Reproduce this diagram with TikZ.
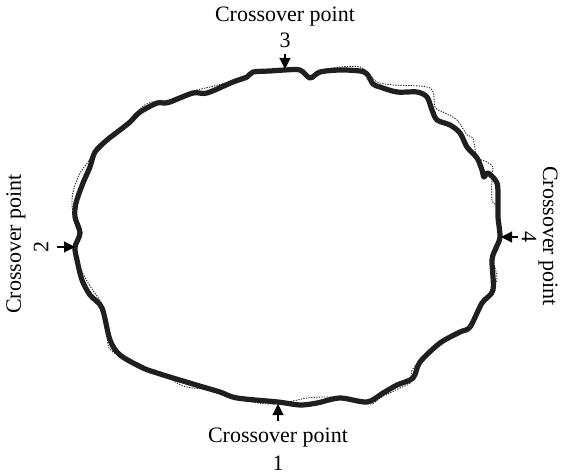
\documentclass[tikz,border=0pt]{standalone}
\usepackage{fontspec}
\setmainfont{Liberation Serif}
\usetikzlibrary{arrows.meta}
\begin{document}
\begin{tikzpicture}[x=1pt,y=-1pt,
  thickcurve/.style={line width=5.2pt,color=black!88,line join=round},
  dotcurve/.style={line width=0.9pt,dash pattern=on 1.3pt off 1.3pt,color=black!85},
  pointer/.style={line width=1.1pt,-{Triangle[length=11pt,width=11pt]}},
  lbl/.style={font=\fontsize{22}{26}\selectfont,inner sep=0pt,align=center}]
\useasboundingbox (0,0) rectangle (562,476);
% dotted reference curve
\draw[dotcurve] plot[smooth cycle,tension=0.5] coordinates {
(285,69) (300,69) (310,77) (320,71) (340,67) (360,67) (370,75) (377,82)
(393,85) (430,88) (435,107) (443,112) (457,120) (467,135) (473,138)
(477,157) (487,162) (493,167) (492,175) (492,200) (497,207) (500,230)
(500,237) (496,248) (492,260) (495,268) (497,278) (493,290) (482,303)
(470,327) (460,332) (440,343) (420,362) (412,370) (410,383) (400,388)
(380,398) (370,404) (340,398) (323,397) (307,398) (293,401) (278,404)
(258,403) (237,398) (220,392) (203,389) (183,386) (157,371) (143,368)
(122,357) (113,352) (108,345) (107,322) (102,304) (90,286) (80,268)
(77,258) (75,247) (79,233) (73,213) (72,200) (74,188) (80,173) (88,162)
(98,146) (110,137) (130,120) (142,107) (152,102) (165,101) (193,91)
(210,87) (233,81) (247,76) (253,72) (270,70)};
% thick measured curve
\draw[thickcurve] plot[smooth cycle,tension=0.5] coordinates {
(285,70) (300,70) (310,78) (320,72) (340,70) (360,71) (367,74) (373,84)
(380,87) (397,92) (417,92) (427,97) (432,110) (437,120) (450,125)
(460,133) (467,147) (477,158) (482,170) (484,177) (488,173) (497,183)
(498,200) (498,217) (500,237) (496,248) (492,260) (493,290) (482,303)
(470,327) (460,332) (440,343) (420,362) (413,378) (397,385) (383,393)
(367,402) (340,398) (317,403) (300,405) (278,402) (237,398) (220,392)
(203,387) (173,378) (157,373) (143,368) (120,355) (110,340) (102,308)
(90,295) (82,280) (77,260) (75,247) (80,233) (75,217) (76,203) (83,183)
(90,167) (95,152) (107,140) (120,130) (130,122) (140,112) (157,103)
(163,103) (170,102) (193,93) (207,93) (233,82) (247,77) (253,72) (270,71)};
% labels
\node[lbl] (t3) at (285,17) {Crossover point};
\node[lbl] (n3) at (285,40) {3};
\node[lbl] (t1) at (278,438) {Crossover point};
\node[lbl] (n1) at (278,463) {1};
\node[lbl,rotate=90] (t2) at (16,244) {Crossover point};
\node[lbl,rotate=90] (n2) at (41,247) {2};
\node[lbl,rotate=-90] (t4) at (548,236) {Crossover point};
\node[lbl,rotate=-90] (n4) at (529,237) {4};
% pointer coordinates
\coordinate (a3s) at (285,54); \coordinate (a3e) at (285,69);
\coordinate (a1s) at (278,421); \coordinate (a1e) at (278,404);
\coordinate (a2s) at (57,247); \coordinate (a2e) at (75,247);
\coordinate (a4s) at (518,237); \coordinate (a4e) at (501,237);
\draw[pointer] (a3s) -- (a3e);
\draw[pointer] (a1s) -- (a1e);
\draw[pointer] (a2s) -- (a2e);
\draw[pointer] (a4s) -- (a4e);
\end{tikzpicture}
\end{document}
